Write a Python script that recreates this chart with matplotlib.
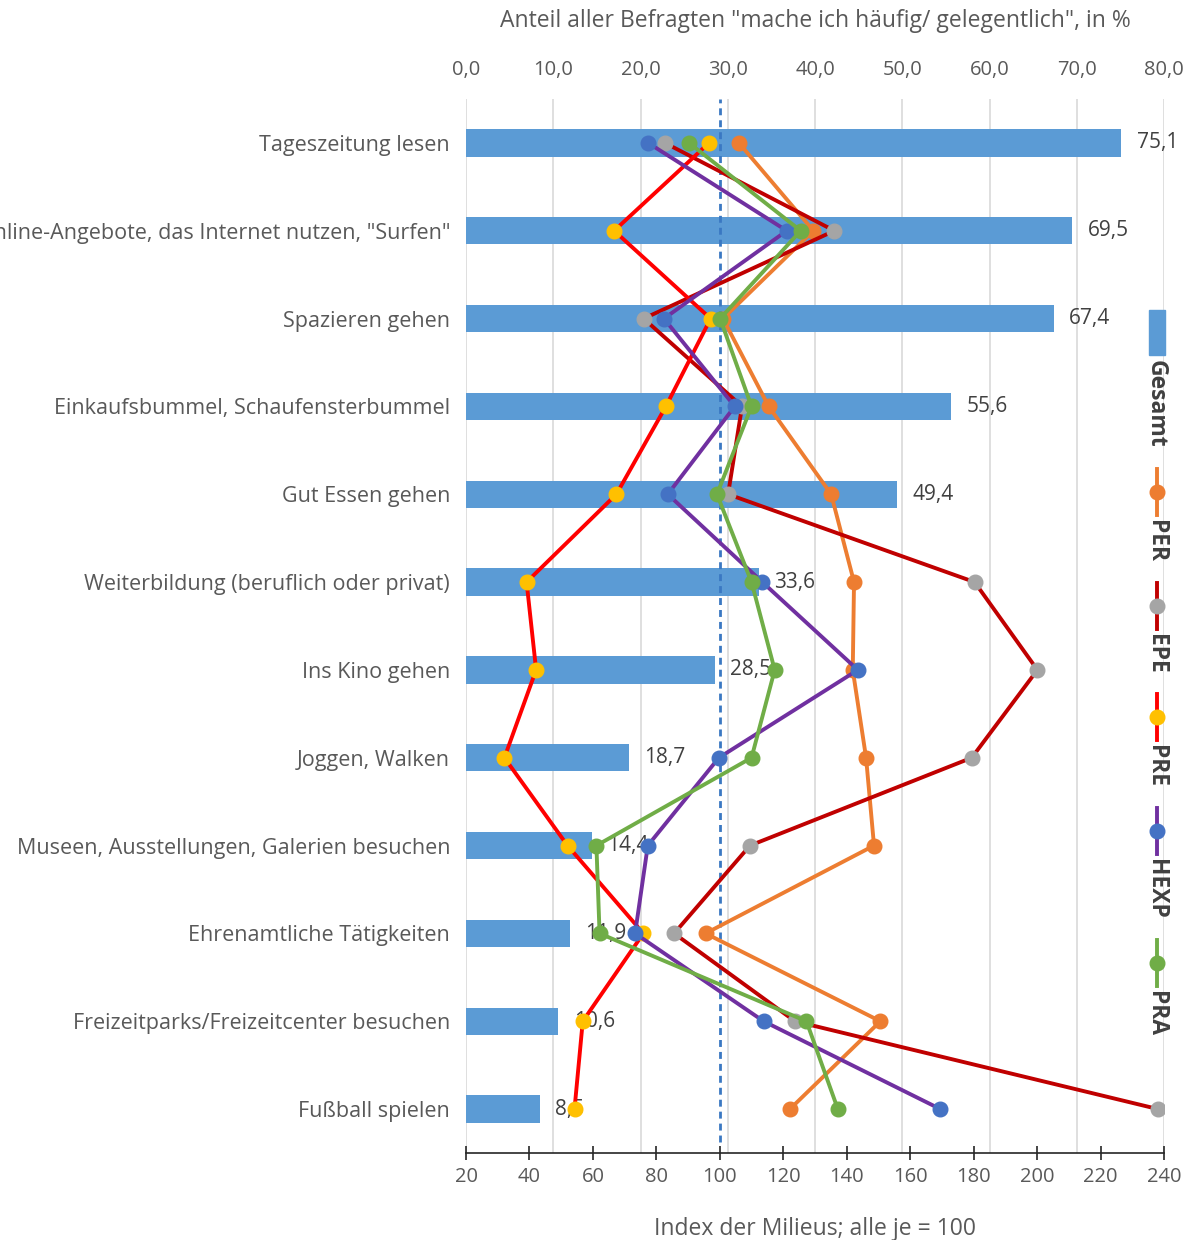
import numpy as np
import matplotlib
matplotlib.use("Agg")
import matplotlib.pyplot as plt
from matplotlib.patches import Rectangle
from matplotlib.lines import Line2D

plt.rcParams["font.family"] = ["Open Sans", "DejaVu Sans"]

categories = [
    "Tageszeitung lesen",
    'Online-Angebote, das Internet nutzen, "Surfen"',
    "Spazieren gehen",
    "Einkaufsbummel, Schaufensterbummel",
    "Gut Essen gehen",
    "Weiterbildung (beruflich oder privat)",
    "Ins Kino gehen",
    "Joggen, Walken",
    "Museen, Ausstellungen, Galerien besuchen",
    "Ehrenamtliche Tätigkeiten",
    "Freizeitparks/Freizeitcenter besuchen",
    "Fußball spielen",
]

# Gesamt: share of all respondents, in %
gesamt = [75.1, 69.5, 67.4, 55.6, 49.4, 33.6, 28.5, 18.7, 14.4, 11.9, 10.6, 8.5]

# milieu indices (alle = 100)
per = [106.0, 129.5, 101.0, 115.4, 135.1, 142.3, 141.9, 146.1, 148.6, 95.5, 150.6, 122.1]
epe = [82.7, 136.1, 76.0, 107.0, 102.6, 180.3, 200.1, 179.4, 109.5, 85.6, 123.7, 238.1]
pre = [96.6, 66.7, 97.1, 83.0, 67.4, 39.1, 42.1, 32.1, 52.0, 75.9, 56.8, 54.2]
hexp = [77.4, 121.1, 82.4, 104.7, 83.6, 113.4, 143.5, 99.7, 77.3, 73.3, 113.8, 169.5]
pra = [90.3, 125.5, 100.1, 110.0, 99.1, 110.0, 117.3, 110.0, 61.1, 62.1, 127.3, 137.2]

series = [
    ("PER", per, "#ED7D31", "#ED7D31"),
    ("EPE", epe, "#C00000", "#A5A5A5"),
    ("PRE", pre, "#FF0000", "#FFC000"),
    ("HEXP", hexp, "#7030A0", "#4472C4"),
    ("PRA", pra, "#70AD47", "#70AD47"),
]

pct_ticks = np.arange(0, 81, 10)
idx_ticks = np.arange(20, 241, 20)

W, H = 1192, 1240
fig = plt.figure(figsize=(W / 100, H / 100), dpi=100)
ax = fig.add_axes([466 / W, 87 / H, 698 / W, (1153 - 99) / H])

y = np.arange(len(categories))
ax.barh(y, gesamt, height=0.31, color="#5B9BD5", zorder=2)
ax.set_xlim(0, 80)
ax.set_ylim(len(categories) - 0.5, -0.5)
ax.set_yticks(y, categories)
ax.tick_params(axis="y", length=0, pad=11.5, labelsize=15.5, labelcolor="#595959")
ax.grid(axis="x", color="#D9D9D9", lw=1.2)
ax.set_axisbelow(True)
for s in ax.spines.values():
    s.set_visible(False)

for i, v in enumerate(gesamt):
    ax.annotate(f"{v:.1f}".replace(".", ","), (v, i), xytext=(11, 0),
                textcoords="offset points", ha="left", va="center",
                fontsize=15, color="#404040")

ax2 = ax.twiny()
ax.xaxis.tick_top()
ax.set_xticks(pct_ticks, [f"{v:.1f}".replace(".", ",") for v in pct_ticks])
ax.tick_params(axis="x", length=0, pad=14, labelsize=14.5, labelcolor="#595959")

ax2.xaxis.tick_bottom()
ax2.set_xlim(20, 240)
ax2.set_xticks(idx_ticks)
ax2.tick_params(axis="x", direction="inout", length=10, width=1.2, color="#262626",
                labelsize=14.5, labelcolor="#595959", pad=5)
for k, s in ax2.spines.items():
    s.set_visible(k == "bottom")
ax2.spines["bottom"].set_color("#262626")
ax2.spines["bottom"].set_linewidth(1.2)

ax2.axvline(100, ymin=0.01, ymax=1, color="#3A78C2", lw=2, ls=(0, (2.5, 1.8)), zorder=2)

for name, vals, lc, mc in series:
    ax2.plot(vals, y, color=lc, lw=2.8, marker="o", ms=10.5, mfc=mc, mec=mc, zorder=3)

fig.text(815 / W, 1 - 21 / H, 'Anteil aller Befragten "mache ich häufig/ gelegentlich", in %',
         ha="center", va="center", fontsize=16.5, color="#595959")
fig.text(815 / W, 1 - 1229 / H, "Index der Milieus; alle je = 100",
         ha="center", va="center", fontsize=16.5, color="#595959")

# vertical legend on the right, drawn in pixel coordinates
lax = fig.add_axes([0, 0, 1, 1])
lax.set_xlim(0, W)
lax.set_ylim(H, 0)
lax.axis("off")
renderer = fig.canvas.get_renderer()
lx = 1157
cur = 310
lax.add_patch(Rectangle((1149, cur), 16, 45, color="#5B9BD5"))
cur += 50


def legend_text(label, cur):
    t = lax.text(lx - 1, cur, label, rotation=-90, ha="center", va="top",
                 fontsize=16.5, fontweight="bold", color="#404040")
    return cur + t.get_window_extent(renderer=renderer).height


cur = legend_text("Gesamt", cur) + 21
for name, vals, lc, mc in series:
    lax.add_line(Line2D([lx, lx], [cur, cur + 46], color=lc, lw=2.8))
    lax.plot([lx], [cur + 23], marker="o", ms=10.5, color=mc)
    cur += 51
    cur = legend_text(name, cur) + 21

fig.savefig("out.png", dpi=100)
